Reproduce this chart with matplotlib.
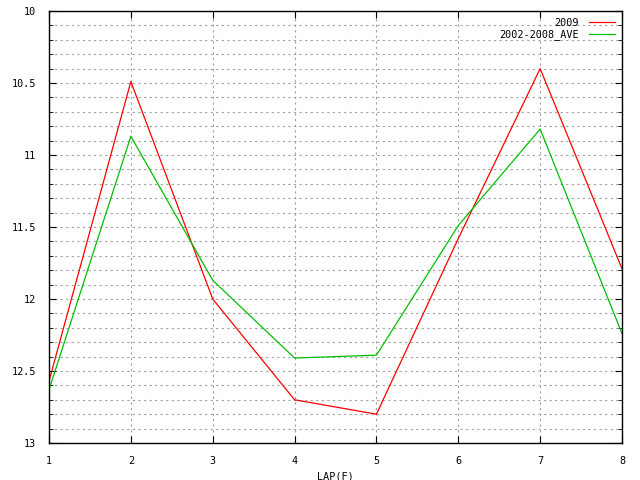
import matplotlib
matplotlib.use('Agg')
import matplotlib.pyplot as plt
from matplotlib.ticker import MultipleLocator

# lap number and lap times
laps = [1, 2, 3, 4, 5, 6, 7, 8]
t2009 = [12.57, 10.49, 12.0, 12.70, 12.80, 11.58, 10.40, 11.79]
t_ave = [12.63, 10.87, 11.87, 12.41, 12.39, 11.49, 10.82, 12.24]

plt.rcParams['font.family'] = 'DejaVu Sans Mono'
plt.rcParams['font.size'] = 7.3

fig = plt.figure(figsize=(6.4, 4.8), dpi=100)
ax = fig.add_axes([49/640, 1 - 443/480, 573/640, 432/480])

ax.plot(laps, t2009, color='#ff0000', lw=0.9, label='2009')
ax.plot(laps, t_ave, color='#00c000', lw=0.9, label='2002-2008_AVE')

ax.set_xlim(1, 8)
ax.set_ylim(13, 10)
ax.xaxis.set_major_locator(MultipleLocator(1))
ax.yaxis.set_minor_locator(MultipleLocator(0.1))
ax.set_yticks([10, 10.5, 11, 11.5, 12, 12.5, 13])
ax.set_yticklabels(['10', '10.5', '11', '11.5', '12', '12.5', '13'])

# gnuplot look: inward ticks on all sides, dotted grid everywhere
ax.tick_params(which='both', direction='in', top=True, right=True, colors='black')
ax.tick_params(which='major', length=5, pad=9)
ax.tick_params(which='minor', length=3)
ax.grid(True, which='both', color='#a0a0a0', lw=0.8, ls=(0, (2, 3)))
for s in ax.spines.values():
    s.set_linewidth(1)

ax.set_xlabel('LAP(F)', labelpad=4)

ax.legend(loc='upper right', frameon=False, markerfirst=False, handlelength=2.6,
          borderaxespad=0.25, labelspacing=0.15, handletextpad=1.0)

fig.savefig('out.png', dpi=100)
